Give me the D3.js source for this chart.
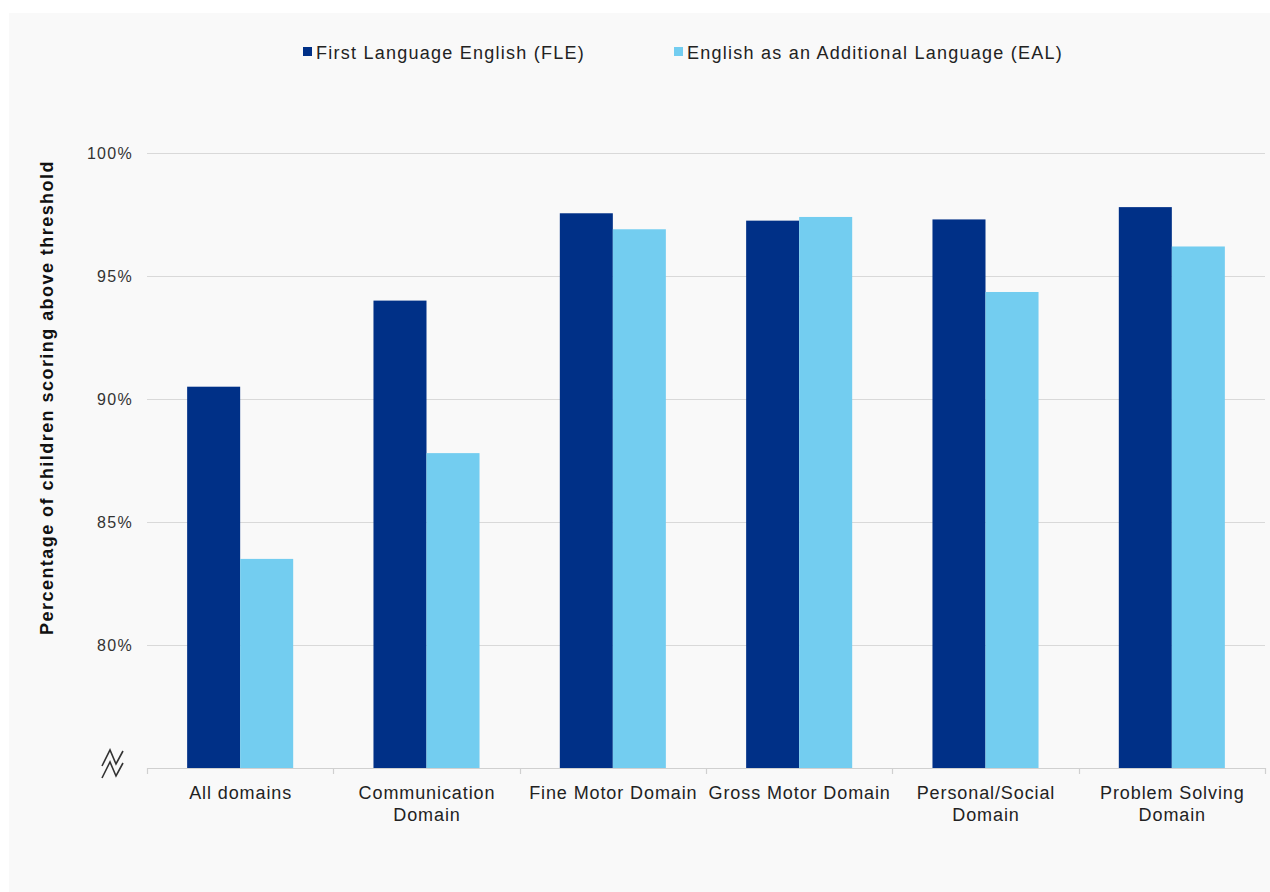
<!DOCTYPE html>
<html>
<head>
<meta charset="utf-8">
<script src="https://cdn.jsdelivr.net/npm/d3@7"></script>
<style>
  html, body { margin: 0; padding: 0; background: #ffffff; }
  svg { display: block; }
</style>
</head>
<body>
<svg id="chart" width="1270" height="892"></svg>
<script>
// Domains along the x axis (each may wrap onto two lines)
const categories = [
  ["All domains"],
  ["Communication", "Domain"],
  ["Fine Motor Domain"],
  ["Gross Motor Domain"],
  ["Personal/Social", "Domain"],
  ["Problem Solving", "Domain"]
];
const seriesNames = ["First Language English (FLE)", "English as an Additional Language (EAL)"];
const fleValues = [90.5, 94.0, 97.55, 97.25, 97.3, 97.8];
const ealValues = [83.5, 87.8, 96.9, 97.4, 94.35, 96.2];
const yTicks = [80, 85, 90, 95, 100];
const yTitle = "Percentage of children scoring above threshold";
const colors = ["#003087", "#73CDF0"];

(function () {
  const svg = d3.select("#chart");
  const font = "'Liberation Sans', Arial, sans-serif";

  // Light panel behind the chart
  svg.append("rect").attr("x", 9).attr("y", 13).attr("width", 1261).attr("height", 879).attr("fill", "#f9f9f9");

  const plotLeft = 147, plotRight = 1265, plotTop = 153, plotBottom = 768;

  const x0 = d3.scaleBand().domain(d3.range(categories.length)).range([plotLeft, plotRight]).paddingInner(0).paddingOuter(0);
  const x1 = d3.scaleBand().domain([0, 1]).range([0, x0.bandwidth()]).paddingInner(0).paddingOuter(0.757);
  const y = d3.scaleLinear().domain([75, 100]).range([plotBottom, plotTop]);

  // Gridlines
  svg.append("g").selectAll("line").data(yTicks).join("line")
    .attr("x1", plotLeft).attr("x2", plotRight)
    .attr("y1", d => Math.round(y(d)) + 0.5).attr("y2", d => Math.round(y(d)) + 0.5)
    .attr("stroke", "#d9d9d9").attr("stroke-width", 1);

  // Y tick labels
  const yAxis = d3.axisLeft(y).tickValues(yTicks).tickFormat(d => d + "%").tickSize(0).tickPadding(14);
  const ya = svg.append("g").attr("transform", `translate(${plotLeft},0)`).call(yAxis);
  ya.select(".domain").remove();
  ya.selectAll("text").attr("font-family", font).attr("font-size", 16)
    .attr("letter-spacing", 1.3).attr("fill", "#333");

  // Bars
  const series = [fleValues, ealValues];
  categories.forEach((c, i) => {
    series.forEach((vals, s) => {
      svg.append("rect")
        .attr("x", x0(i) + x1(s))
        .attr("y", y(vals[i]))
        .attr("width", x1.bandwidth())
        .attr("height", plotBottom - y(vals[i]))
        .attr("fill", colors[s]);
    });
  });

  // X axis line with ticks at category boundaries
  const xa = svg.append("g");
  xa.append("line").attr("x1", plotLeft).attr("x2", plotRight).attr("y1", plotBottom + 0.5).attr("y2", plotBottom + 0.5)
    .attr("stroke", "#d0d0d0").attr("stroke-width", 1.2);
  const bounds = d3.range(categories.length + 1).map(i => i < categories.length ? x0(i) : plotRight);
  xa.selectAll("line.tick").data(bounds).join("line").attr("class", "tick")
    .attr("x1", d => Math.round(d) + 0.5).attr("x2", d => Math.round(d) + 0.5)
    .attr("y1", plotBottom).attr("y2", plotBottom + 6)
    .attr("stroke", "#d0d0d0").attr("stroke-width", 1.2);

  // Category labels
  categories.forEach((lines, i) => {
    const cx = x0(i) + x0.bandwidth() / 2 + 0.5;
    const t = svg.append("text")
      .attr("x", cx).attr("y", 799)
      .attr("text-anchor", "middle")
      .attr("font-family", font).attr("font-size", 18).attr("letter-spacing", 0.9).attr("fill", "#222");
    lines.forEach((ln, k) => {
      t.append("tspan").attr("x", cx).attr("dy", k === 0 ? 0 : 22).text(ln);
    });
  });

  // Axis break marker
  const brk = svg.append("g").attr("fill", "none").attr("stroke", "#333").attr("stroke-width", 1.6);
  [0, 12].forEach(off => {
    brk.append("path").attr("d", `M102,${766 + off} L110,${750 + off} L116,${764 + off} L123,${751 + off}`);
  });

  // Y axis title
  svg.append("text")
    .attr("transform", `translate(53,${(plotTop + plotBottom) / 2 - 63}) rotate(-90)`)
    .attr("text-anchor", "middle")
    .attr("font-family", font).attr("font-size", 18).attr("font-weight", "bold")
    .attr("letter-spacing", 1.45).attr("fill", "#111")
    .text(yTitle);

  // Legend
  const legendX = [303, 674];
  seriesNames.forEach((name, s) => {
    svg.append("rect").attr("x", legendX[s]).attr("y", 47).attr("width", 9).attr("height", 9).attr("fill", colors[s]);
    svg.append("text").attr("x", legendX[s] + 13).attr("y", 59)
      .attr("font-family", font).attr("font-size", 18).attr("letter-spacing", 1.25).attr("fill", "#222").text(name);
  });
})();
</script>
</body>
</html>
